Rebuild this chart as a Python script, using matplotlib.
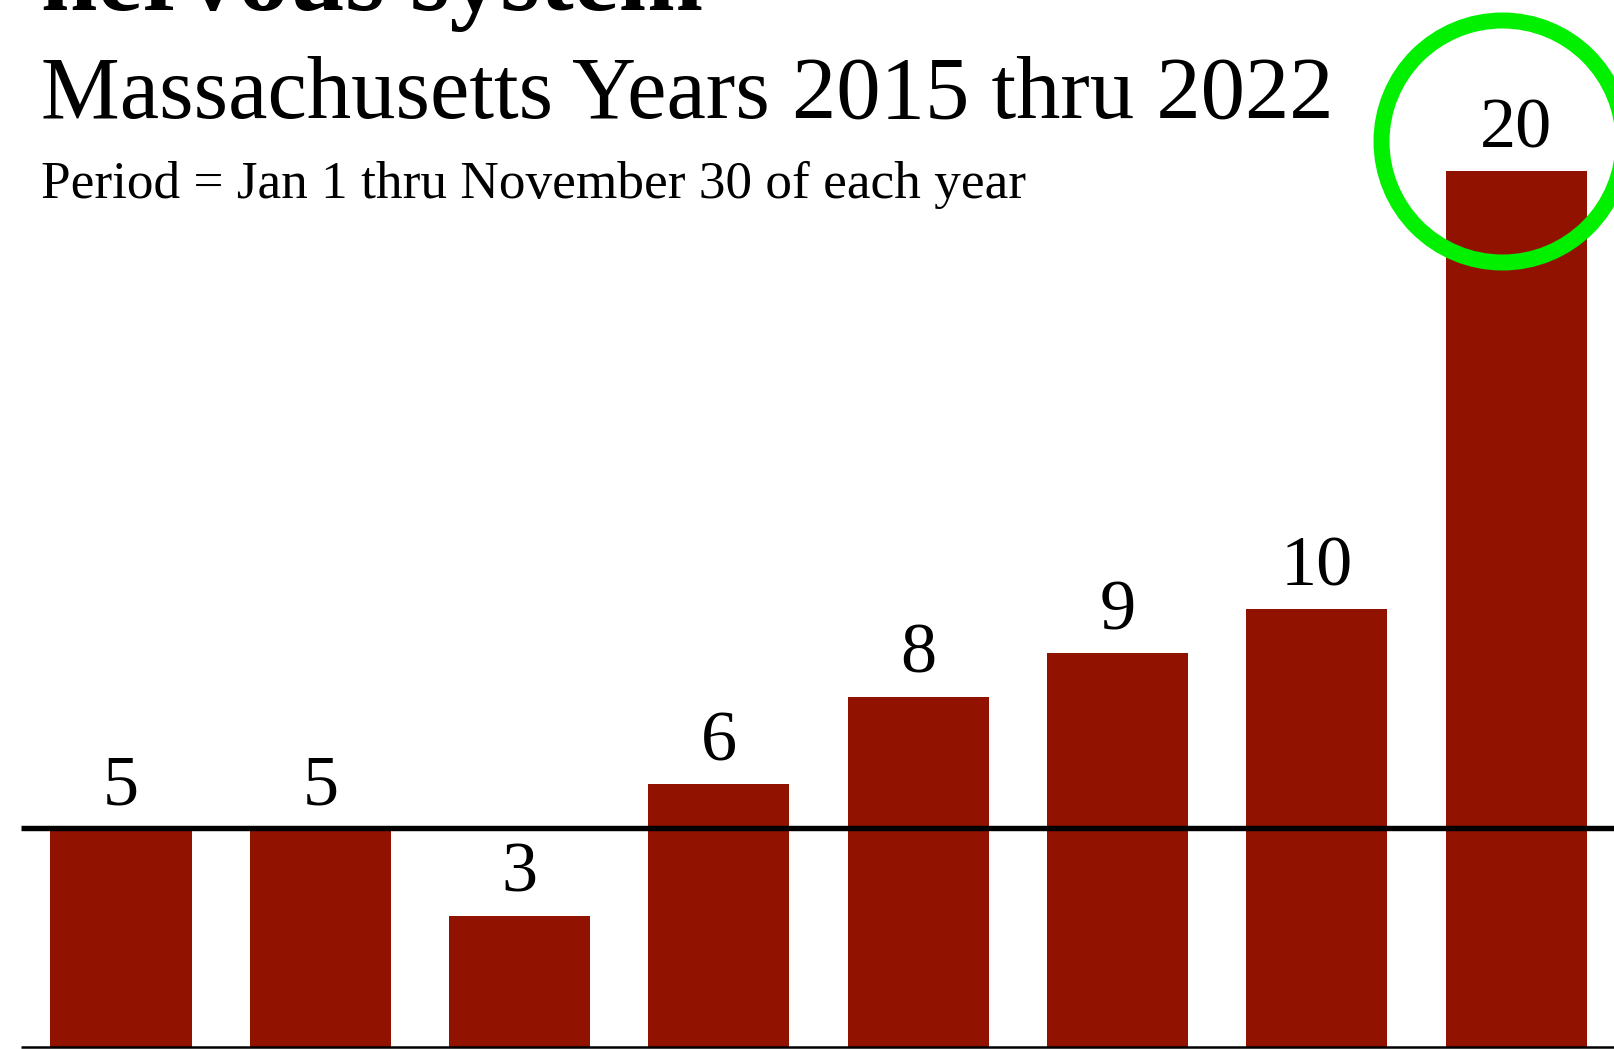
import matplotlib
matplotlib.use("Agg")
import matplotlib.pyplot as plt
import matplotlib.transforms as mtransforms

years = ["2015", "2016", "2017", "2018", "2019", "2020", "2021", "2022"]
values = [5, 5, 3, 6, 8, 9, 10, 20]
reference_value = 5
highlight_index = 7

title_tail = "nervous system"
subtitle = "Massachusetts Years 2015 thru 2022"
period_note = "Period = Jan 1 thru November 30 of each year"

plt.rcParams["font.family"] = ["Liberation Serif", "DejaVu Serif"]

W, H, DPI = 1615, 1049, 100
fig = plt.figure(figsize=(W / DPI, H / DPI), dpi=DPI)
ax = fig.add_axes([0, 0, 1, 1])

bar_color = "#921200"
x = list(range(len(values)))
ax.bar(x, values, width=0.708, color=bar_color, zorder=2)

ax.set_xlim(-0.607, 7.496)
ax.set_ylim(-0.046, 23.9)
ax.axis("off")

# reference line and baseline
ax.hlines(reference_value, -0.5, 8, color="black", lw=3.9, zorder=3)
ax.hlines(0, -0.5, 8, color="black", lw=1.8, zorder=3)

for xi, v in zip(x, values):
    ax.annotate(str(v), (xi, v), xytext=(0, 17), textcoords="offset points",
                ha="center", va="baseline", fontsize=52, color="black")

# green highlight circle around the highest value label
circ_tr = mtransforms.offset_copy(ax.transData, fig=fig, x=-14, y=30, units="dots")
ax.plot([x[highlight_index]], [values[highlight_index]], marker="o",
        markersize=242 * 72 / DPI, markerfacecolor="none",
        markeredgecolor="#00f000", markeredgewidth=16 * 72 / DPI,
        transform=circ_tr, clip_on=False, zorder=5)

fig.text(41 / W, 1 - 10 / H, title_tail, fontsize=73, fontweight="bold",
         ha="left", va="baseline")
fig.text(41 / W, 1 - 118 / H, subtitle, fontsize=63.8, ha="left", va="baseline")
fig.text(41 / W, 1 - 198 / H, period_note, fontsize=38.3, ha="left", va="baseline")

fig.savefig("out.png", dpi=DPI)
